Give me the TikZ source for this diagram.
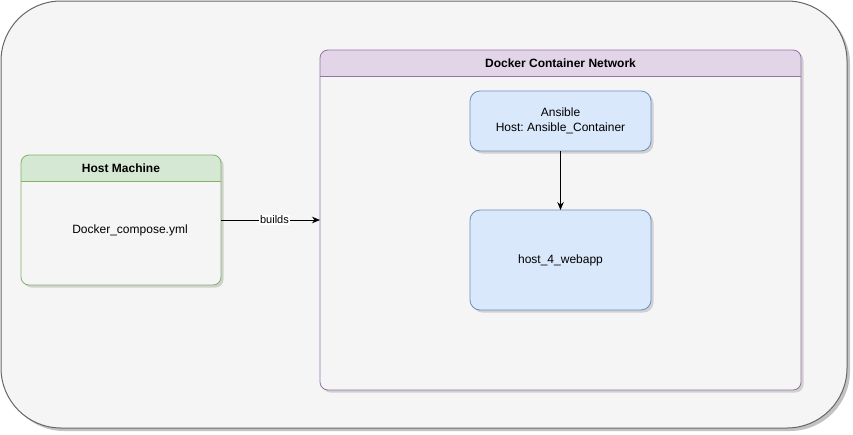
\documentclass[tikz,border=0pt]{standalone}
\usepackage{fontspec}
\setmainfont{Liberation Sans}
\usepackage{tikz}
\usetikzlibrary{arrows.meta,shadows}
\frenchspacing
\definecolor{bgfill}{HTML}{F5F5F5}
\definecolor{bgline}{HTML}{666666}
\definecolor{hostfill}{HTML}{D5E8D4}
\definecolor{hostline}{HTML}{82B366}
\definecolor{netfill}{HTML}{E1D5E7}
\definecolor{netline}{HTML}{9673A6}
\definecolor{boxfill}{HTML}{DAE8FC}
\definecolor{boxline}{HTML}{6C8EBF}
\tikzset{
  soft/.style={drop shadow={shadow xshift=2.5pt,shadow yshift=-2.5pt,opacity=0.25,fill=black!60}},
  outerbox/.style={draw=bgline,fill=bgfill,line width=1pt,rounded corners=60pt,
    minimum width=846pt,minimum height=427pt,inner sep=0pt,outer sep=0pt,
    drop shadow={shadow xshift=3pt,shadow yshift=-3pt,opacity=0.4,fill=black!60}},
  lane/.style={fill=bgfill,rounded corners=8pt,inner sep=0pt,outer sep=0pt,soft},
  hostbox/.style={lane,minimum width=200pt,minimum height=130pt},
  netbox/.style={lane,minimum width=481pt,minimum height=340pt},
  container/.style={draw=boxline,fill=boxfill,line width=0.8pt,rounded corners=10pt,
    minimum width=181pt,inner sep=0pt,outer sep=0pt,align=center,soft},
  arrow/.style={line width=0.8pt,-{Stealth[length=8pt,width=6.5pt]}}
}
\begin{document}
\begin{tikzpicture}[x=1pt,y=-1pt,font=\fontsize{12}{15}\selectfont]
   \useasboundingbox (0,0) rectangle (853,434);
   \node[outerbox] (outer) at (424,214.5) {};
   % Host Machine
   \node[hostbox] (host) at (121,220) {};
   \begin{scope}
     \clip[rounded corners=8pt] (host.north west) rectangle (host.south east);
     \fill[hostfill] (host.north west) rectangle ([yshift=-26pt]host.north east);
   \end{scope}
   \draw[hostline,line width=0.8pt] ([yshift=-26pt]host.north west) -- ([yshift=-26pt]host.north east);
   \draw[hostline,line width=0.8pt,rounded corners=8pt] (host.north west) rectangle (host.south east);
   \node[font=\fontsize{12}{15}\selectfont\bfseries] (hosttitle) at ([yshift=-13pt]host.north) {Host Machine};
   \node (compose) at (130,230) {Docker\_compose.yml};
   % Docker Container Network
   \node[netbox] (net) at (560.5,220) {};
   \begin{scope}
     \clip[rounded corners=8pt] (net.north west) rectangle (net.south east);
     \fill[netfill] (net.north west) rectangle ([yshift=-26pt]net.north east);
   \end{scope}
   \draw[netline,line width=0.8pt] ([yshift=-26pt]net.north west) -- ([yshift=-26pt]net.north east);
   \draw[netline,line width=0.8pt,rounded corners=8pt] (net.north west) rectangle (net.south east);
   \node[font=\fontsize{12}{15}\selectfont\bfseries] (nettitle) at ([yshift=-13pt]net.north) {Docker Container Network};
   \node[container,minimum height=60pt] (ansible) at (560.5,121) {Ansible\\Host: Ansible\_Container};
   \node[container,minimum height=100pt] (webapp) at (560.5,260) {host\_4\_webapp};
   % connectors
   \draw[arrow] (host.east) -- node[pos=0.54,fill=white,inner sep=1pt,font=\fontsize{11}{13}\selectfont] (buildslabel) {builds} (net.west);
   \draw[arrow] (ansible) -- (webapp);
  \end{tikzpicture}
\end{document}
